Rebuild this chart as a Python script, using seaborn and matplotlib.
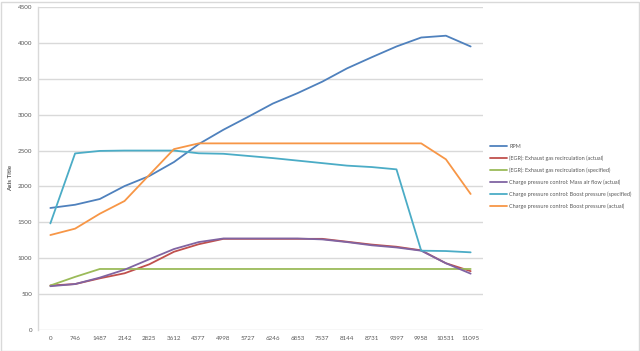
import matplotlib
matplotlib.use("Agg")
import matplotlib.pyplot as plt
import seaborn as sns
import pandas as pd
from matplotlib.patches import Rectangle

categories = ["0", "746", "1487", "2142", "2825", "3612", "4377", "4998", "5727",
              "6246", "6853", "7537", "8144", "8731", "9397", "9958", "10531", "11095"]

rpm = [1700, 1745, 1825, 2005, 2145, 2340, 2590, 2790, 2970, 3155, 3300, 3460,
       3645, 3800, 3950, 4075, 4100, 3950]
egr_actual = [620, 640, 720, 790, 915, 1090, 1195, 1270, 1270, 1270, 1270, 1270,
              1230, 1190, 1160, 1110, 930, 820]
egr_specified = [620, 740, 850, 850, 850, 850, 850, 850, 850, 850, 850, 850,
                 850, 850, 850, 850, 850, 850]
maf_actual = [610, 640, 730, 840, 985, 1128, 1225, 1275, 1275, 1275, 1275, 1262,
              1225, 1180, 1150, 1105, 930, 785]
boost_specified = [1485, 2460, 2495, 2500, 2500, 2500, 2462, 2455, 2425, 2395, 2360,
                   2325, 2290, 2270, 2238, 1105, 1100, 1082]
boost_actual = [1323, 1412, 1620, 1797, 2160, 2520, 2600, 2600, 2600, 2600, 2600,
                2600, 2600, 2600, 2600, 2600, 2378, 1895]

series_names = ["RPM",
                "(EGR): Exhaust gas recirculation (actual)",
                "(EGR): Exhaust gas recirculation (specified)",
                "Charge pressure control: Mass air flow (actual)",
                "Charge pressure control: Boost pressure (specified)",
                "Charge pressure control: Boost pressure (actual)"]
series_values = [rpm, egr_actual, egr_specified, maf_actual, boost_specified, boost_actual]
colors = ["#4F81BD", "#C0504D", "#9BBB59", "#8064A2", "#4BACC6", "#F79646"]

rows = []
for name, vals in zip(series_names, series_values):
    for i, v in enumerate(vals):
        rows.append({"pos": i, "value": v, "series": name})
df = pd.DataFrame(rows)

sns.set_style("white")
plt.rcParams['font.family'] = ['Lato', 'DejaVu Sans']

fig = plt.figure(figsize=(6.4, 3.51), dpi=100)
ax = fig.add_axes([38/640, 1 - 330/351, (483 - 38)/640, (330 - 7)/351])

sns.lineplot(data=df, x="pos", y="value", hue="series", hue_order=series_names,
             palette=colors, linewidth=1.3, ax=ax, legend=False)

ax.set_xlim(-0.5, len(categories) - 0.5)
ax.set_ylim(0, 4500)
ax.set_xticks(range(len(categories)))
ax.set_xticklabels(categories)
ax.set_yticks(range(0, 4501, 500))
ax.tick_params(axis="both", length=0, labelsize=4.5, labelcolor="#595959", pad=4)
ax.yaxis.grid(True, color="#D9D9D9", linewidth=1)
ax.set_axisbelow(True)
for s in ["top", "right", "bottom"]:
    ax.spines[s].set_visible(False)
ax.spines["left"].set_color("#D9D9D9")
ax.spines["left"].set_linewidth(1)
ax.set_xlabel("")
ax.set_ylabel("Axis Title", fontsize=4.5, color="#595959", fontweight="bold")
ax.yaxis.set_label_coords((13 - 38) / 445, 0.47)

handles = [plt.Line2D([], [], color=c, linewidth=1.3) for c in colors]
fig.legend(handles, series_names, loc="upper left", bbox_to_anchor=(488/640, 1 - 142/351),
           frameon=False, fontsize=4.0, handlelength=3.0, handletextpad=0.4,
           labelspacing=1.15, labelcolor="#595959", borderaxespad=0)

fig.patches.append(Rectangle((0.5/640, 0.5/351), 638/640, 349/351, transform=fig.transFigure,
                             fill=False, edgecolor="#D9D9D9", linewidth=1))

fig.savefig("out.png", dpi=100)
